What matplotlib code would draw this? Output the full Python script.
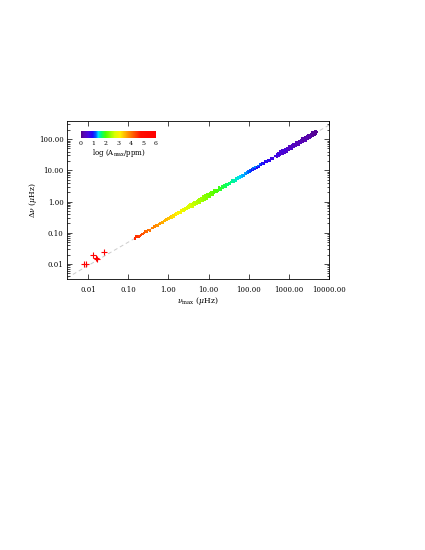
import matplotlib
matplotlib.use("Agg")
import matplotlib.pyplot as plt
import numpy as np
from matplotlib.colors import LinearSegmentedColormap
from matplotlib.ticker import LogLocator, FormatStrFormatter, NullFormatter, FixedLocator

plt.rcParams['font.family'] = ['DejaVu Serif']
plt.rcParams['mathtext.fontset'] = 'dejavuserif'

# ---------------- data ----------------
# red/orange sparse stars
numax_red = [0.15, 0.16, 0.18, 0.19, 0.21, 0.23, 0.25, 0.27, 0.29, 0.32, 0.35, 0.40, 0.45,
             0.50, 0.55, 0.60, 0.63, 0.70, 0.74, 0.80, 0.85, 0.90]
dnu_red = [0.066, 0.076, 0.075, 0.079, 0.086, 0.090, 0.098, 0.114, 0.110, 0.121, 0.120, 0.142,
           0.158, 0.168, 0.172, 0.188, 0.208, 0.216, 0.215, 0.238, 0.252, 0.262]
amp_red = [4.6, 4.5, 4.5, 4.4, 4.35, 4.3, 4.2, 4.2, 4.1, 4.05, 4.0, 3.9, 3.9,
           3.8, 3.75, 3.7, 3.7, 3.6, 3.6, 3.55, 3.5, 3.5]

# yellow stars
numax_yel = [1.0, 1.05, 1.1, 1.15, 1.2, 1.25, 1.3, 1.4, 1.45, 1.5, 1.6, 1.7, 1.75, 1.8, 1.9,
             2.0, 2.1, 2.2, 2.3, 2.4, 2.5, 2.6, 2.7, 2.8, 2.9, 1.35, 1.65, 2.05, 2.45, 2.75]
dnu_yel = [0.291, 0.276, 0.322, 0.302, 0.327, 0.308, 0.361, 0.353, 0.403, 0.364, 0.414, 0.396,
           0.457, 0.422, 0.463, 0.438, 0.518, 0.496, 0.570, 0.518, 0.579, 0.544, 0.631, 0.588,
           0.634, 0.326, 0.432, 0.470, 0.575, 0.580]
amp_yel = [3.45, 3.4, 3.45, 3.35, 3.35, 3.3, 3.3, 3.25, 3.2, 3.25, 3.15, 3.1, 3.15, 3.05, 3.05,
           3.0, 3.0, 2.95, 2.95, 2.9, 2.9, 2.85, 2.85, 2.85, 2.8, 3.25, 3.1, 3.0, 2.9, 2.8]

# green stars
numax_grn = [3.0, 3.1, 3.2, 3.3, 3.4, 3.5, 3.6, 3.7, 3.8, 3.9,
             4.0, 4.1, 4.2, 4.3, 4.4, 4.5, 4.6, 4.7, 4.8, 4.9,
             5.0, 5.2, 5.3, 5.5, 5.6, 5.8,
             6.0, 6.2, 6.3, 6.5, 6.6, 6.8,
             7.0, 7.2, 7.4, 7.6, 7.8,
             8.0, 8.2, 8.4, 8.6, 8.8,
             9.0, 9.3, 9.5, 9.8,
             10, 10.5, 11, 11.5, 12, 12.5, 13, 13.5, 14, 15,
             16, 17, 18, 19, 20, 21, 22, 23, 24, 25, 26, 27, 28,
             30,
             4.25, 5.1, 5.9, 6.9, 7.9, 8.9, 10.2, 11.2, 12.2, 13.8, 14.5, 16.5,
             3.5, 4.0, 4.5, 5.0, 5.5, 6.0, 6.5, 7.0, 7.5, 8.0, 8.5, 9.0, 9.5, 10.5,
             11.5, 12.5, 14, 16, 18, 20, 24, 27]
dnu_grn = [0.676, 0.615, 0.683, 0.637, 0.757, 0.702, 0.769, 0.710, 0.831, 0.746,
           0.824, 0.750, 0.880, 0.811, 0.877, 0.813, 0.950, 0.867, 0.953, 0.848,
           0.964, 0.925, 1.056, 0.955, 1.060, 0.983,
           1.149, 1.067, 1.135, 1.060, 1.257, 1.132,
           1.265, 1.157, 1.331, 1.256, 1.346,
           1.239, 1.466, 1.326, 1.462, 1.359,
           1.557, 1.446, 1.545, 1.442,
           1.670, 1.569, 1.827, 1.662, 1.861, 1.750, 2.051, 1.913, 2.108, 1.985,
           2.375, 2.251, 2.570, 2.396, 2.728, 2.667, 3.043, 2.793, 3.097, 2.912, 3.385, 3.251, 3.542,
           3.447,
           0.845, 0.92, 1.10, 1.17, 1.29, 1.50, 1.55, 1.75, 1.80, 2.02, 2.10, 2.28,
           0.80, 0.70, 0.98, 0.82, 1.13, 0.93, 1.30, 1.05, 1.45, 1.15, 1.58, 1.27, 1.72, 1.43,
           1.98, 1.62, 2.30, 2.02, 2.80, 2.35, 3.40, 2.95]
amp_grn = [2.8, 2.75, 2.75, 2.7, 2.75, 2.7, 2.7, 2.65, 2.7, 2.65,
           2.6, 2.65, 2.6, 2.6, 2.55, 2.6, 2.55, 2.55, 2.5, 2.55,
           2.5, 2.5, 2.45, 2.5, 2.45, 2.45,
           2.4, 2.45, 2.4, 2.4, 2.35, 2.4,
           2.35, 2.35, 2.3, 2.35, 2.3,
           2.3, 2.25, 2.3, 2.25, 2.25,
           2.2, 2.25, 2.2, 2.2,
           2.15, 2.2, 2.1, 2.15, 2.1, 2.05, 2.05, 2.0, 2.0, 2.0,
           1.95, 1.95, 1.9, 1.9, 1.85, 1.85, 1.8, 1.8, 1.75, 1.75, 1.7, 1.7, 1.7,
           1.65,
           2.6, 2.5, 2.45, 2.35, 2.3, 2.25, 2.15, 2.15, 2.1, 2.0, 2.0, 1.95,
           2.7, 2.65, 2.55, 2.55, 2.45, 2.45, 2.4, 2.4, 2.3, 2.3, 2.25, 2.25, 2.2, 2.15,
           2.1, 2.1, 2.0, 1.95, 1.9, 1.85, 1.75, 1.7]

# cyan stars
numax_cyn = [32, 34, 36, 38, 40, 42, 45, 48, 50, 53, 56, 60, 63, 66, 70, 75, 80, 85, 90, 95,
             100, 105, 110, 115, 120]
dnu_cyn = [3.955, 3.747, 4.241, 4.157, 4.721, 4.436, 4.964, 4.802, 5.530, 5.336, 5.907, 5.737,
           6.515, 6.291, 6.913, 6.852, 7.790, 7.605, 8.425, 8.179, 9.214, 8.914, 9.795, 9.446, 10.566]
amp_cyn = [1.65, 1.6, 1.6, 1.6, 1.55, 1.55, 1.5, 1.5, 1.5, 1.45, 1.45, 1.4, 1.4, 1.35, 1.35,
           1.3, 1.3, 1.25, 1.25, 1.2, 1.2, 1.15, 1.15, 1.1, 1.1]

# blue stars
numax_blu = [125, 130, 140, 150, 160, 170, 180, 190, 200, 210, 220, 230, 240, 260, 270, 280,
             300, 330, 360, 400, 450]
dnu_blu = [10.05, 11.32, 10.83, 12.72, 12.22, 13.59, 12.94, 15.34, 14.60, 15.9, 16.8, 16.0,
           16.23, 19.23, 19.4, 18.59, 20.8, 20.61, 24.32, 24.31, 28.48]
amp_blu = [0.95, 1.2, 1.0, 1.25, 0.9, 1.2, 0.95, 1.15, 0.9, 1.1, 0.85, 1.1, 0.85, 0.8, 1.0,
           0.8, 0.75, 0.8, 0.7, 0.7, 0.65]

# purple stars (main-sequence / subgiants)
numax_pur = [500, 500, 520, 550, 550, 570, 600, 600, 625, 650, 650, 675, 700, 700, 730,
             750, 750, 780, 800, 800, 830, 900, 900, 940, 1000, 1000, 1040, 1100, 1100, 1150,
             1200, 1200, 1250, 1300, 1300, 1350, 1400, 1400, 1450, 1500, 1500, 1580,
             1700, 1700, 1750, 1800, 1800, 1900, 2000, 2000, 2100, 2200, 2200, 2300,
             2400, 2400, 2500, 2600, 2600, 2700, 2800, 2800, 2900, 3000, 3000, 3150,
             3300, 3300, 3450, 3600, 3600, 3750, 3900, 3900, 4050, 4200, 4200, 4350,
             4500, 4500, 4650, 4800, 4800, 4900, 4600, 4300,
             600, 800, 1000, 1200, 1500, 1800, 2200, 2600, 3000, 3400, 3900, 700, 900,
             1300, 2000, 2800]
dnu_pur = [32.6, 27.3, 30.5, 35.0, 29.3, 32.8, 37.4, 31.3, 35.0, 39.7, 33.2, 37.1, 41.9, 35.1, 39.3,
           44.2, 36.9, 41.4, 46.4, 38.8, 43.4, 50.6, 42.4, 47.4, 54.8, 45.8, 51.3, 58.9, 49.2, 55.1,
           62.8, 52.5, 58.8, 66.7, 55.8, 62.4, 70.5, 59.0, 66.0, 74.3, 62.1, 69.5,
           81.6, 68.3, 76.4, 85.1, 71.2, 79.7, 92.2, 77.1, 86.3, 98.9, 82.7, 92.6,
           105.6, 88.3, 98.9, 112.1, 93.7, 105.0, 118.5, 99.1, 110.9, 124.9, 104.4, 116.9,
           134.1, 112.1, 125.6, 143.2, 119.8, 134.1, 152.0, 127.1, 142.3, 160.7, 134.4, 150.5,
           169.3, 141.6, 158.5, 177.8, 148.7, 166.4, 185.0, 172.0,
           40.5, 36.7, 58.3, 49.7, 79.6, 67.3, 105.0, 87.6, 131.7, 112.0, 160.0, 45.0, 40.0,
           70.3, 73.7, 123.9]
amp_pur = [0.65, 0.5, 0.8, 0.45, 0.6, 0.85, 0.6, 0.45, 0.75, 0.4, 0.55, 0.5, 0.55, 0.4, 0.7,
           0.45, 0.5, 0.4, 0.5, 0.35, 0.65, 0.4, 0.5, 0.35, 0.45, 0.3, 0.4, 0.35, 0.45, 0.3,
           0.4, 0.3, 0.35, 0.3, 0.4, 0.25, 0.35, 0.25, 0.3, 0.25, 0.35, 0.3,
           0.3, 0.2, 0.25, 0.2, 0.3, 0.25, 0.25, 0.2, 0.3, 0.2, 0.25, 0.15,
           0.25, 0.15, 0.2, 0.15, 0.25, 0.2, 0.2, 0.15, 0.25, 0.15, 0.2, 0.1,
           0.2, 0.1, 0.15, 0.1, 0.15, 0.2, 0.15, 0.1, 0.1, 0.1, 0.15, 0.05,
           0.1, 0.05, 0.1, 0.05, 0.1, 0.05, 0.1, 0.05,
           0.5, 0.45, 0.35, 0.4, 0.3, 0.3, 0.2, 0.25, 0.15, 0.2, 0.1, 0.5, 0.45,
           0.35, 0.3, 0.2]

# red '+' symbols (very luminous giants)
numax_plus = [0.0079, 0.0088, 0.0136, 0.0155, 0.0165, 0.0245]
dnu_plus = [0.0098, 0.0098, 0.0194, 0.0159, 0.0141, 0.0247]

# scaling relation drawn as dashed line: dnu = fit_coeff * numax ** fit_exp
fit_coeff = 0.28
fit_exp = 0.75

numax = numax_red + numax_yel + numax_grn + numax_cyn + numax_blu + numax_pur
dnu = dnu_red + dnu_yel + dnu_grn + dnu_cyn + dnu_blu + dnu_pur
logamp = amp_red + amp_yel + amp_grn + amp_cyn + amp_blu + amp_pur

# ---------------- style ----------------
stops = [(0.00, (0.33, 0.00, 0.52)),
         (0.04, (0.34, 0.02, 0.72)),
         (0.10, (0.28, 0.02, 0.88)),
         (0.15, (0.12, 0.02, 0.98)),
         (0.19, (0.00, 0.30, 1.00)),
         (0.23, (0.00, 0.85, 1.00)),
         (0.27, (0.00, 1.00, 0.45)),
         (0.33, (0.30, 1.00, 0.00)),
         (0.45, (0.85, 1.00, 0.00)),
         (0.52, (1.00, 0.95, 0.00)),
         (0.62, (1.00, 0.60, 0.00)),
         (0.72, (1.00, 0.30, 0.00)),
         (0.80, (1.00, 0.05, 0.00)),
         (1.00, (1.00, 0.00, 0.00))]
cmap = LinearSegmentedColormap.from_list('idlrainbow', stops)

fig = plt.figure(figsize=(4.25, 5.5), dpi=100)
ax = fig.add_axes([67 / 425, 1 - 279 / 550, 262 / 425, 158 / 550])
ax.set_xscale('log')
ax.set_yscale('log')
ax.set_xlim(0.003, 10000)
ax.set_ylim(0.0033, 380)

xx = np.logspace(np.log10(0.003), 4, 300)
ax.plot(xx, fit_coeff * xx ** fit_exp, ls=(0, (4, 3)), color='#cccccc', lw=0.7, zorder=1)

ax.scatter(numax, dnu, c=logamp, cmap=cmap, vmin=0, vmax=6, s=3.2, marker='s',
           linewidths=0, zorder=2)
ax.plot(numax_plus, dnu_plus, '+', color='red', ms=4.5, mew=0.8, zorder=3)

ax.xaxis.set_major_locator(FixedLocator([0.01, 0.1, 1, 10, 100, 1000, 10000]))
ax.xaxis.set_minor_locator(FixedLocator([]))
ax.xaxis.set_major_formatter(FormatStrFormatter('%.2f'))
ax.yaxis.set_major_locator(FixedLocator([0.01, 0.1, 1, 10, 100]))
ax.yaxis.set_minor_locator(LogLocator(base=10, subs=np.arange(2, 10), numticks=20))
ax.yaxis.set_major_formatter(FormatStrFormatter('%.2f'))
ax.yaxis.set_minor_formatter(NullFormatter())

ax.tick_params(which='both', direction='in', top=True, right=True, width=0.5, labelsize=5)
ax.tick_params(which='major', length=3.5)
ax.tick_params(which='minor', length=1.8)
ax.tick_params(axis='x', pad=5)
ax.tick_params(axis='y', pad=2.5)
for s in ax.spines.values():
    s.set_linewidth(0.6)

ax.set_xlabel(r'$\nu_{\rm max}$ ($\mu$Hz)', fontsize=5.5, labelpad=0.5)
ax.set_ylabel(r'$\Delta\nu$ ($\mu$Hz)', fontsize=5.5, labelpad=0)

cax = fig.add_axes([81 / 425, 1 - 138 / 550, 75 / 425, 7 / 550])
sm = matplotlib.cm.ScalarMappable(cmap=cmap, norm=matplotlib.colors.Normalize(0, 6))
cb = fig.colorbar(sm, cax=cax, orientation='horizontal', ticks=[0, 1, 2, 3, 4, 5, 6])
cb.outline.set_visible(False)
cb.ax.tick_params(length=0, labelsize=4.5, pad=2.5)
cb.ax.set_xticklabels(['0', '1', '2', '3', '4', '5', '6'])
cb.set_label(r'log (A$_{\rm max}$/ppm)', fontsize=5, labelpad=0.5)

fig.savefig('out.png', dpi=100)
